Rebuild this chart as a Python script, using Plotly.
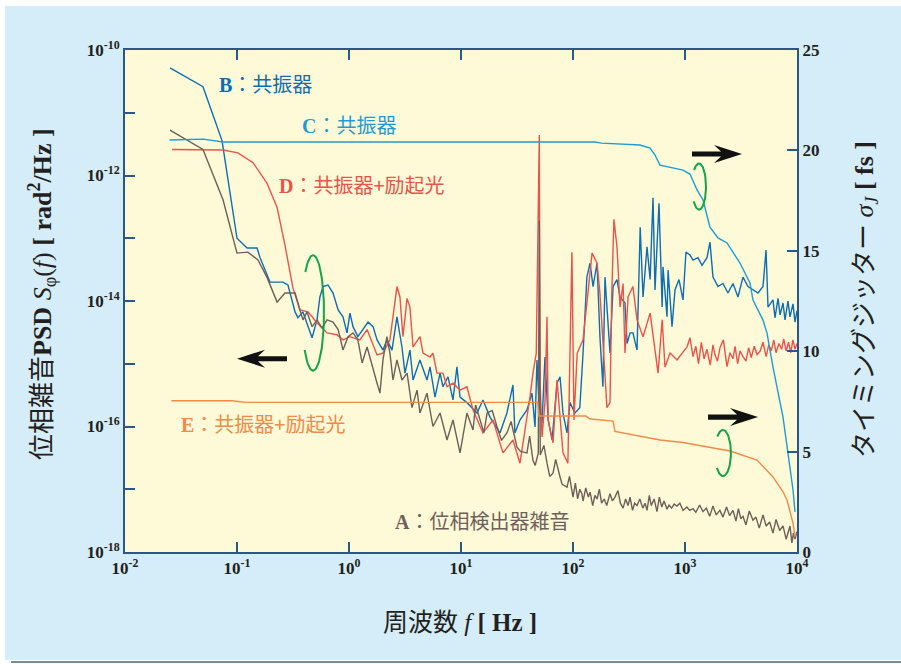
import numpy as np
import plotly.graph_objects as go

# ---------------- data ----------------
# B : resonator, phase-noise PSD [rad^2/Hz]
freq_B = [0.0252, 0.0497, 0.0735, 0.1, 0.123, 0.151, 0.16, 0.197, 0.257, 0.285, 0.33, 0.35, 0.388, 0.43,
          0.468, 0.518, 0.55, 0.586, 0.65, 0.72, 0.80, 0.884, 0.96, 1.02, 1.086, 1.20, 1.33, 1.48, 1.64,
          1.78, 2.01, 2.18, 2.42, 2.68, 2.97, 3.16, 3.5, 3.73, 4.3, 4.97, 5.29, 5.86, 6.5, 6.9, 7.66, 8.48,
          9.2, 9.8, 11.3, 13.9, 15.7, 18.2, 22.3, 25.7, 29.1, 30.3, 33.6, 38.8, 43.0, 45.8, 47.7, 49.7,
          52.9, 56.2, 60, 65, 72, 76.6, 81.4, 88.4, 94, 104, 115, 123, 133, 142, 151, 164, 174, 185, 193,
          214, 228, 247, 263, 291, 304, 323, 343, 373, 398, 422, 458, 488, 518, 540, 562, 586, 625, 636,
          691, 706, 766, 814, 884, 960, 1020, 1108, 1179, 1306, 1419, 1572, 1671, 1778, 1970, 2183, 2420,
          2682, 2970, 3295, 3650, 4047, 4490, 4972, 5290, 5510, 6105, 6362, 6770, 7060, 7500, 7814, 8310,
          8660, 9211, 9600, 10000]
psd_B = [5.2e-11, 2.6e-11, 3.6e-12, 1.0e-13, 7.0e-14, 7.0e-14, 5.0e-14, 2.0e-14, 2.0e-14, 1.8e-14, 6.7e-15,
         5.4e-15, 6.7e-15, 3.9e-15, 2.6e-15, 5.0e-15, 1.16e-14, 1.7e-14, 1.8e-14, 1.34e-14, 7.2e-15, 5.6e-15,
         3.1e-15, 6.4e-15, 3.9e-15, 2.7e-15, 3.5e-15, 4.6e-15, 3.9e-15, 2.4e-15, 1.65e-15, 2.4e-15, 1.65e-15,
         5.6e-15, 1.85e-15, 7.1e-16, 1.65e-15, 5.5e-16, 1.15e-15, 5.5e-16, 8.9e-16, 2.95e-16, 7.1e-16, 4.3e-16,
         6.2e-16, 2.65e-16, 8.9e-16, 2.95e-16, 2.4e-16, 1.64e-16, 2.65e-16, 1.4e-16, 7.9e-17, 1.64e-16, 4.6e-16,
         7.9e-17, 1.27e-16, 1.84e-16, 3.4e-16, 9.8e-17, 1.15e-15, 2.4e-16, 1.14e-16, 1.28e-15, 1.27e-16, 6.1e-17,
         4.9e-16, 6.2e-16, 1.64e-16, 7.9e-17, 2.4e-16, 1.64e-16, 2.0e-16, 1.48e-15, 2.4e-14, 4.0e-14, 1.7e-14,
         4.0e-14, 2.7e-15, 4.3e-16, 2.4e-14, 1.48e-15, 1.7e-14, 2.2e-14, 1.16e-14, 9.3e-15, 2.1e-15, 3.1e-15,
         3.1e-15, 1.65e-15, 1.5e-13, 1.16e-14, 7.3e-14, 2.2e-14, 4.4e-13, 1.5e-14, 7.3e-14, 3.6e-13, 8.0e-15,
         3.5e-14, 5.6e-15, 3.1e-14, 3.9e-15, 1.5e-14, 2.2e-14, 1.04e-14, 6.0e-14, 5.4e-14, 4.5e-14, 4.9e-14,
         3.7e-14, 4.9e-14, 8.7e-14, 2.4e-14, 1.7e-14, 1.9e-14, 1.34e-14, 1.9e-14, 1.16e-14, 2.4e-14, 1.7e-14,
         1.5e-14, 1.34e-14, 1.7e-14, 6.5e-14, 8.0e-15, 1.04e-14, 5.4e-15, 1.1e-14, 6.0e-15, 9.3e-15, 5.0e-15,
         1.0e-14, 5.6e-15, 9.0e-15, 4.6e-15, 7.0e-15]

# D : resonator + pump light (low- and high-frequency parts)
freq_D_low = [0.0263, 0.075, 0.102, 0.139, 0.185, 0.228, 0.268, 0.316, 0.365, 0.43,
              0.518, 0.636, 0.78, 0.884, 1.02, 1.25, 1.45, 1.78, 2.01, 2.32,
              2.68, 2.85, 3.03, 3.3, 3.5, 3.73, 4.3, 4.58, 5.29, 5.62,
              6.1, 6.9, 7.5, 8.48, 9.8, 11.3, 12.8, 15.7, 19.3, 23.7,
              29.1, 33.6, 41.3, 43.9, 47, 50, 51, 52.9, 56.2, 58.6,
              60, 66.3, 72, 81.4, 90, 97.8, 102, 109, 123, 133,
              148, 164, 174, 201, 214, 222, 232, 247, 263, 280,
              291, 310, 343, 373, 422, 488, 540, 575, 625, 663,
              736, 848]
psd_D_low = [2.6e-12, 2.55e-12, 2.3e-12, 1.6e-12, 7.6e-13, 3.1e-13, 7.8e-14, 1.6e-14, 7.2e-15, 6.7e-15,
             4.5e-15, 3.1e-15, 2.9e-15, 2.4e-15, 2.7e-15, 2.4e-15, 3.5e-15, 1.38e-15, 1.48e-15, 2.4e-15,
             1.7e-14, 1.16e-14, 2.7e-15, 1.1e-14, 8.0e-15, 1.85e-15, 2.7e-15, 1.48e-15, 1.28e-15, 1.48e-15,
             7.1e-16, 7.1e-16, 4.3e-16, 4.9e-16, 3.8e-16, 4.3e-16, 1.84e-16, 7.9e-17, 1.27e-16, 3.8e-17,
             6.1e-17, 2.6e-17, 2.95e-16, 7.1e-16, 1.48e-15, 4.4e-12, 4.3e-16, 6.8e-17, 2.4e-16, 5.6e-15,
             1.27e-16, 5.5e-17, 5.5e-16, 3.8e-17, 2.6e-17, 6.0e-14, 1.27e-16, 1.48e-15, 2.4e-15, 1.04e-14,
             5.8e-14, 4.0e-14, 1.34e-14, 2.0e-16, 2.4e-16, 1.34e-14, 2.0e-13, 7.3e-14, 8.0e-15, 1.9e-14,
             1.48e-15, 1.16e-14, 1.7e-14, 5.0e-15, 2.7e-15, 6.4e-15, 1.85e-15, 7.1e-16, 5.0e-15, 8.9e-16,
             1.48e-15, 1.15e-15]
freq_D_high = [1042, 1108, 1179, 1250, 1320, 1400, 1480, 1572, 1680, 1778,
               1850, 1950, 2054, 2200, 2371, 2520, 2682, 2800, 2950, 3100,
               3295, 3500, 3700, 3900, 4150, 4400, 4700, 4972, 5300, 5600,
               5900, 6200, 6500, 6900, 7300, 7600, 8000, 8400, 8800, 9200,
               9600, 10000]
psd_D_high = [1.85e-15, 2.6e-15, 1.3e-15, 1.9e-15, 1.0e-15, 2.2e-15, 1.2e-15, 1.7e-15, 9.5e-16, 2.0e-15,
              1.4e-15, 1.1e-15, 1.8e-15, 2.4e-15, 9.0e-16, 1.5e-15, 1.2e-15, 1.9e-15, 1.0e-15, 1.6e-15,
              1.3e-15, 1.1e-15, 1.8e-15, 1.25e-15, 1.9e-15, 1.4e-15, 1.6e-15, 2.2e-15, 1.3e-15, 2.0e-15,
              1.6e-15, 2.4e-15, 1.5e-15, 2.1e-15, 1.7e-15, 2.5e-15, 1.6e-15, 2.2e-15, 1.5e-15, 2.4e-15,
              1.7e-15, 2.1e-15]

# A : phase detector noise (low- and high-frequency parts)
freq_A_low = [0.0252, 0.0497, 0.075, 0.1, 0.125, 0.154, 0.185, 0.228, 0.268, 0.33, 0.365, 0.388, 0.422, 0.468,
              0.518, 0.575, 0.636, 0.72, 0.80, 0.884, 0.98, 1.086, 1.2, 1.31, 1.45, 1.61, 1.78, 1.89, 2.01,
              2.18, 2.32, 2.47, 2.68, 2.97, 3.3, 3.65, 4.05, 4.3, 4.97, 5.62, 6.5, 7.5, 8.48, 9.8, 11.3, 12.8,
              13.5, 14.8, 16, 17.1, 19, 21, 23, 25.7, 28, 31.6, 34, 38.8, 41, 43.9, 46, 49, 50, 51, 55, 58.6,
              62, 66.3, 70, 76.6, 80, 88.4, 93]
psd_A_low = [5.3e-12, 2.6e-12, 4.1e-13, 5.8e-14, 6.0e-14, 4.5e-14, 2.4e-14, 9.6e-15, 1.34e-14, 1.34e-14,
             7.2e-15, 5.0e-15, 6.7e-15, 3.9e-15, 5.0e-15, 3.7e-15, 5.0e-15, 4.6e-15, 3.5e-15, 1.65e-15,
             2.7e-15, 3.1e-15, 2.4e-15, 1.03e-15, 1.85e-15, 8.9e-16, 4.9e-16, 3.4e-16, 1.15e-15, 2.7e-15,
             1.48e-15, 5.5e-16, 1.15e-15, 5.5e-16, 7.1e-16, 2.0e-16, 3.8e-16, 1.64e-16, 3.4e-16, 1.0e-16,
             1.64e-16, 6.1e-17, 1.27e-16, 3.8e-17, 1.64e-16, 8.8e-17, 2.2e-16, 1.27e-16, 8.0e-17, 1.64e-16,
             1.8e-16, 9.8e-17, 6.0e-17, 7.9e-17, 1.2e-16, 4.7e-17, 4.0e-17, 3.8e-17, 7.0e-17, 2.9e-17,
             2.4e-17, 3.8e-17, 1.9e-13, 3.5e-17, 5.0e-17, 2.6e-17, 1.6e-17, 1.8e-17, 3.0e-17, 1.57e-17,
             1.2e-17, 1.08e-17, 1.6e-17]
freq_A_high = [100, 105, 110, 115, 120, 123, 130, 137, 142, 150,
               157, 164, 172, 180, 190, 200, 214, 225, 237, 252,
               265, 280, 295, 310, 323, 340, 355, 373, 395, 420,
               440, 458, 480, 500, 530, 562, 590, 620, 650, 691,
               720, 760, 800, 848, 900, 960, 1040, 1100, 1179, 1250,
               1350, 1448, 1550, 1660, 1778, 1900, 2050, 2183, 2350, 2500,
               2682, 2850, 3000, 3150, 3295, 3500, 3750, 4047, 4300, 4600,
               4972, 5300, 5700, 6105, 6500, 7000, 7500, 8000, 8660, 9000,
               9300, 9600, 10000]
psd_A_high = [7.5e-18, 1.25e-17, 7.0e-18, 1.0e-17, 8.5e-18, 6.5e-18, 1.05e-17, 7.5e-18, 9.0e-18, 5.5e-18,
              8.0e-18, 7.0e-18, 1.0e-17, 6.0e-18, 7.0e-18, 5.5e-18, 8.5e-18, 6.5e-18, 7.5e-18, 9.5e-18,
              6.0e-18, 5.0e-18, 7.0e-18, 5.5e-18, 7.5e-18, 4.6e-18, 6.0e-18, 5.5e-18, 7.0e-18, 5.0e-18,
              6.0e-18, 4.6e-18, 8.0e-18, 5.5e-18, 7.0e-18, 4.4e-18, 7.5e-18, 5.2e-18, 6.5e-18, 4.8e-18,
              5.6e-18, 5.0e-18, 5.8e-18, 5.4e-18, 6.0e-18, 4.6e-18, 5.2e-18, 4.6e-18, 4.9e-18, 4.3e-18,
              5.6e-18, 4.4e-18, 5.0e-18, 3.7e-18, 5.4e-18, 3.9e-18, 4.6e-18, 3.6e-18, 5.2e-18, 3.8e-18,
              4.6e-18, 3.1e-18, 4.9e-18, 3.4e-18, 3.7e-18, 2.7e-18, 4.5e-18, 3.2e-18, 3.6e-18, 2.4e-18,
              3.9e-18, 2.6e-18, 3.0e-18, 2.0e-18, 3.3e-18, 2.2e-18, 2.6e-18, 1.6e-18, 2.6e-18, 1.4e-18,
              2.0e-18, 1.6e-18, 2.1e-18]

# C : resonator, integrated timing jitter [fs]
freq_C = [0.025, 0.05, 0.075, 10, 157, 180, 263, 396, 487, 540, 598, 735, 960, 1108, 1280, 1448, 1671, 1970,
          2371, 3098, 3802, 4047, 4972, 5397, 6105, 7500, 8660, 9211, 9600]
jitter_C = [20.52, 20.56, 20.42, 20.42, 20.42, 20.36, 20.32, 20.27, 20.12, 19.77, 19.27, 19.17, 19.02, 18.82,
            18.03, 17.53, 16.18, 15.64, 15.39, 14.39, 13.40, 12.55, 11.55, 10.9, 9.21, 6.72, 4.23, 3.09, 2.0]

# E : resonator + pump light, integrated timing jitter [fs]
freq_E = [0.026, 0.09, 0.12, 48.5, 49.5, 130, 142, 228, 237, 598, 960, 1671, 2523, 4394, 6105, 7500, 8142,
          9211, 9600]
jitter_E = [7.53, 7.53, 7.45, 7.45, 6.77, 6.77, 6.62, 6.52, 6.0, 5.58, 5.45, 5.23, 5.03, 4.58, 3.74, 3.0,
            2.59, 1.44, 0.75]

x_tick_vals = [1e-2, 1e-1, 1e0, 1e1, 1e2, 1e3, 1e4]
x_tick_text = ['10<sup>-2</sup>', '10<sup>-1</sup>', '10<sup>0</sup>', '10<sup>1</sup>',
               '10<sup>2</sup>', '10<sup>3</sup>', '10<sup>4</sup>']
y_tick_vals = [1e-10, 1e-11, 1e-12, 1e-13, 1e-14, 1e-15, 1e-16, 1e-17, 1e-18]
y_tick_text = ['10<sup>-10</sup>', '', '10<sup>-12</sup>', '', '10<sup>-14</sup>', '',
               '10<sup>-16</sup>', '', '10<sup>-18</sup>']
y2_tick_vals = [0, 5, 10, 15, 20, 25]

assert len(freq_B) == len(psd_B)
assert len(freq_D_low) == len(psd_D_low) and len(freq_D_high) == len(psd_D_high)
assert len(freq_A_low) == len(psd_A_low) and len(freq_A_high) == len(psd_A_high)
assert len(freq_C) == len(jitter_C) and len(freq_E) == len(jitter_E)

freq_D = freq_D_low + freq_D_high
psd_D = psd_D_low + psd_D_high
freq_A = freq_A_low + freq_A_high
psd_A = psd_A_low + psd_A_high

# ---------------- styling ----------------
CJK = 'Noto Sans CJK JP'
SERIF = 'Liberation Serif'
PANEL = '#d5ecf9'
PLOT = '#fef9d6'
AXC = '#2a5788'
TXT = '#231f20'
COL_A = '#6e5f5b'
COL_B = '#0d6db6'
COL_C = '#1e9bd7'
COL_D = '#e9534b'
COL_E = '#ef8a47'
GREEN = '#16a34a'

L, R, T, B = 125, 104, 50, 112
W, H = 901, 664
PW, PH = W - L - R, H - T - B


def cjk(s):
    return f'<span style="font-family:{CJK};font-weight:normal">{s}</span>'


def px_x(p):
    return (p - L) / PW


def px_y(p):
    return (H - B - p) / PH


fig = go.Figure()


def line(x, y, color, axis='y'):
    fig.add_trace(go.Scatter(x=x, y=y, mode='lines', yaxis=axis,
                             line=dict(color=color, width=1.4), hoverinfo='skip'))


line(freq_B, psd_B, COL_B)
line(freq_D, psd_D, COL_D)
line(freq_A, psd_A, COL_A)
line(freq_E, jitter_E, COL_E, 'y2')
line(freq_C, jitter_C, COL_C, 'y2')

# green arcs (decoration) tying curves to their axis: centre (log f, y), radii
arcs = [dict(lf=-0.321, cy=-14.19, rx=0.098, ry=0.92, axis='y'),
        dict(lf=3.125, cy=18.2, rx=0.0625, ry=1.15, axis='y2'),
        dict(lf=3.339, cy=4.93, rx=0.071, ry=1.15, axis='y2')]
t = np.radians(np.linspace(-140, 135, 80))
for a in arcs:
    xs = 10 ** (a['lf'] + a['rx'] * np.cos(t))
    if a['axis'] == 'y':
        ys = 10 ** (a['cy'] + a['ry'] * np.sin(t))
    else:
        ys = a['cy'] + a['ry'] * np.sin(t)
    fig.add_trace(go.Scatter(x=xs, y=ys, mode='lines', yaxis=a['axis'],
                             line=dict(color=GREEN, width=2), hoverinfo='skip'))

# ---------------- series labels ----------------
labels = [
    ('B', '：共振器', -1.179, -10.54, 'y', COL_B),
    ('C', '：共振器', -0.4375, -11.18, 'y', COL_C),
    ('D', '：共振器+励起光', -0.643, -12.14, 'y', COL_D),
    ('E', '：共振器+励起光', -1.518, -15.96, 'y', COL_E),
    ('A', '：位相検出器雑音', 0.393, -17.49, 'y', COL_A),
]
ann = []
for letter, rest, lx, ly, yr, col in labels:
    ann.append(dict(x=lx, y=ly, xref='x', yref=yr, xanchor='left', yanchor='middle',
                    showarrow=False, text=f'<b>{letter}</b>{cjk(rest)}',
                    font=dict(family=SERIF, size=20, color=col)))

# axis titles
ann.append(dict(x=px_x(40), y=px_y(294), xref='paper', yref='paper', textangle=-90,
                showarrow=False, xanchor='center', yanchor='middle',
                text=cjk('位相雑音') + '<b>PSD</b> <i>S</i><sub>φ</sub>(<i>f</i>) <b>[ rad<sup>2</sup>/Hz ]</b>',
                font=dict(family=SERIF, size=26, color=TXT)))
ann.append(dict(x=px_x(862), y=px_y(300), xref='paper', yref='paper', textangle=-90,
                showarrow=False, xanchor='center', yanchor='middle',
                text=cjk('タイミングジッター') + ' <i>σ<sub>J</sub></i> <b>[ fs ]</b>',
                font=dict(family=SERIF, size=26, color=TXT)))
ann.append(dict(x=px_x(460), y=px_y(620), xref='paper', yref='paper',
                showarrow=False, xanchor='center', yanchor='middle',
                text=cjk('周波数') + ' <i>f</i> <b>[ Hz ]</b>',
                font=dict(family=SERIF, size=25, color=TXT)))

# ---------------- shapes: page border & arrows ----------------
shapes = [
    dict(type='rect', xref='paper', yref='paper', x0=px_x(-5), x1=px_x(W + 5), y0=px_y(6), y1=px_y(-5),
         fillcolor='white', line=dict(width=0), layer='below'),
    dict(type='rect', xref='paper', yref='paper', x0=px_x(-5), x1=px_x(5), y0=px_y(H + 5), y1=px_y(-5),
         fillcolor='white', line=dict(width=0), layer='below'),
    dict(type='rect', xref='paper', yref='paper', x0=px_x(-5), x1=px_x(W + 5), y0=px_y(H + 5), y1=px_y(660),
         fillcolor='white', line=dict(width=0), layer='below'),
    dict(type='line', xref='paper', yref='paper', x0=px_x(11), x1=px_x(W), y0=px_y(662), y1=px_y(662),
         line=dict(color='#7d8a93', width=2), layer='below'),
]

# arrows: tip position in data units (log10 f, y), direction (+1 right, -1 left)
arrows = [(-1.0, -14.92, 'y', -1), (3.509, 19.82, 'y2', +1), (3.652, 6.72, 'y2', +1)]
for lf, yv, ax, d in arrows:
    tx = (lf + 2) / 6
    ty = (yv + 18) / 8 if ax == 'y' else yv / 25
    pts = [(0, 0), (-28, 9), (-21, 2.6), (-50, 2.6), (-50, -2.6), (-21, -2.6), (-28, -9)]
    path = 'M ' + ' L '.join(f'{tx + d * px / PW:.5f},{ty + py / PH:.5f}' for px, py in pts) + ' Z'
    shapes.append(dict(type='path', xref='paper', yref='paper', path=path,
                       fillcolor='#111111', line=dict(width=0), layer='above'))

tickfont = dict(family=SERIF, size=17, color=TXT, weight='bold')
axis_common = dict(ticks='inside', ticklen=10, tickwidth=2, tickcolor=AXC, showline=True,
                   linecolor=AXC, linewidth=2, showgrid=False, zeroline=False, tickfont=tickfont)

fig.update_layout(
    width=W, height=H, margin=dict(l=L, r=R, t=T, b=B),
    paper_bgcolor=PANEL, plot_bgcolor=PLOT, showlegend=False,
    xaxis=dict(type='log', range=[-2, 4], tickvals=x_tick_vals, ticktext=x_tick_text,
               mirror='ticks', **axis_common),
    yaxis=dict(type='log', range=[-18, -10], tickvals=y_tick_vals, ticktext=y_tick_text,
               mirror=False, **axis_common),
    yaxis2=dict(overlaying='y', side='right', range=[0, 25], tickvals=y2_tick_vals,
                **axis_common),
    annotations=ann, shapes=shapes,
)

fig.write_html('out.html')
